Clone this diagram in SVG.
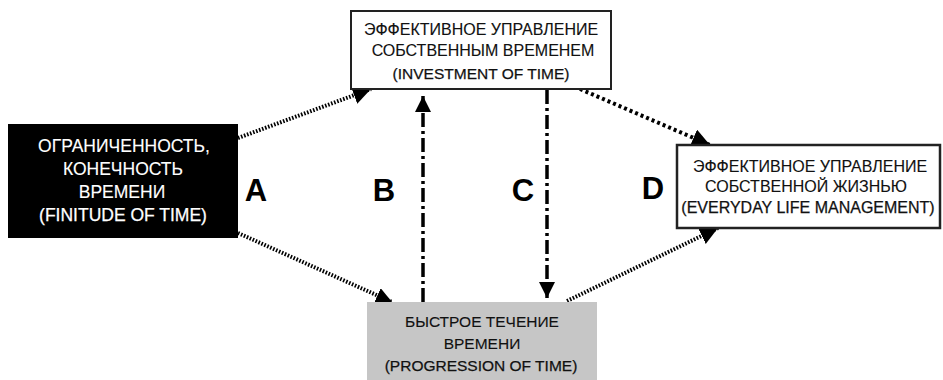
<svg xmlns="http://www.w3.org/2000/svg" width="943" height="380" viewBox="0 0 943 380">
<style>
text{font-family:"Liberation Sans",Arial,sans-serif;text-anchor:middle}
.t{fill:#111;stroke:#111;stroke-width:0.12}
.w{fill:#fff;stroke:#fff;stroke-width:0.12}
.lat{stroke-width:0.25}
.big{font-weight:bold;font-size:31px;fill:#000}
.dot{fill:none;stroke:#000;stroke-width:4;stroke-dasharray:1.6 1.6}
.dot2{fill:none;stroke:#000;stroke-width:4;stroke-dasharray:3 3}
.dd{fill:none;stroke:#000;stroke-width:3.5;stroke-dasharray:14 4 3 4}
</style>
<defs>
<marker id="ah" markerUnits="userSpaceOnUse" markerWidth="20" markerHeight="20" refX="18" refY="9" orient="auto" viewBox="0 0 20 20">
<path d="M0,0 L18,9 L0,18 z" fill="#000"/>
</marker>
<marker id="ahs" markerUnits="userSpaceOnUse" markerWidth="18" markerHeight="18" refX="16" refY="8" orient="auto" viewBox="0 0 18 18">
<path d="M0,0 L16,8 L0,16 z" fill="#000"/>
</marker>
</defs>
<rect width="943" height="380" fill="#fff"/>
<g id="connectors">
<line class="dot" x1="238" y1="138" x2="371" y2="89" marker-end="url(#ah)"/>
<line class="dot" x1="238" y1="233" x2="392" y2="302" marker-end="url(#ahs)"/>
<line class="dot2" x1="580" y1="89" x2="710" y2="145" marker-end="url(#ah)"/>
<line class="dot" x1="567" y1="301" x2="718" y2="228" marker-end="url(#ah)"/>
<line class="dd" x1="423" y1="302" x2="423" y2="96" marker-end="url(#ahs)"/>
<line class="dd" x1="547" y1="90" x2="547" y2="298" marker-end="url(#ahs)"/>
</g>
<g id="labels">
<text class="big" x="256" y="201">A</text>
<text class="big" x="384" y="201">B</text>
<text class="big" x="523" y="201">C</text>
<text class="big" x="653" y="199">D</text>
</g>
<g id="node-time-investment">
<rect x="351" y="11" width="260" height="78" fill="#fff" stroke="#222" stroke-width="2"/>
<text class="t" x="481" y="35" font-size="16">ЭФФЕКТИВНОЕ УПРАВЛЕНИЕ</text>
<text class="t" x="483" y="56" font-size="16">СОБСТВЕННЫМ ВРЕМЕНЕМ</text>
<text class="t lat" x="481" y="79" font-size="15.5">(INVESTMENT OF TIME)</text>
</g>
<g id="node-finitude">
<rect x="8" y="124" width="230" height="114" fill="#000"/>
<text class="w" x="124" y="152" font-size="17.5">ОГРАНИЧЕННОСТЬ,</text>
<text class="w" x="123" y="175" font-size="17.5">КОНЕЧНОСТЬ</text>
<text class="w" x="122" y="198" font-size="17.5">ВРЕМЕНИ</text>
<text class="w lat" x="123" y="221" font-size="17.5">(FINITUDE OF TIME)</text>
</g>
<g id="node-life-management">
<rect x="677" y="145" width="263" height="83" fill="#fff" stroke="#222" stroke-width="2.5"/>
<text class="t" x="810" y="172" font-size="16">ЭФФЕКТИВНОЕ УПРАВЛЕНИЕ</text>
<text class="t" x="806" y="192" font-size="16">СОБСТВЕННОЙ ЖИЗНЬЮ</text>
<text class="t lat" x="808" y="213" font-size="16">(EVERYDAY LIFE MANAGEMENT)</text>
</g>
<g id="node-progression">
<rect x="367" y="302" width="230" height="78" fill="#c6c6c6"/>
<text class="t" x="482" y="327" font-size="15.5">БЫСТРОЕ ТЕЧЕНИЕ</text>
<text class="t" x="482" y="349" font-size="15.5">ВРЕМЕНИ</text>
<text class="t lat" x="481" y="371" font-size="15.5">(PROGRESSION OF TIME)</text>
</g>
</svg>
